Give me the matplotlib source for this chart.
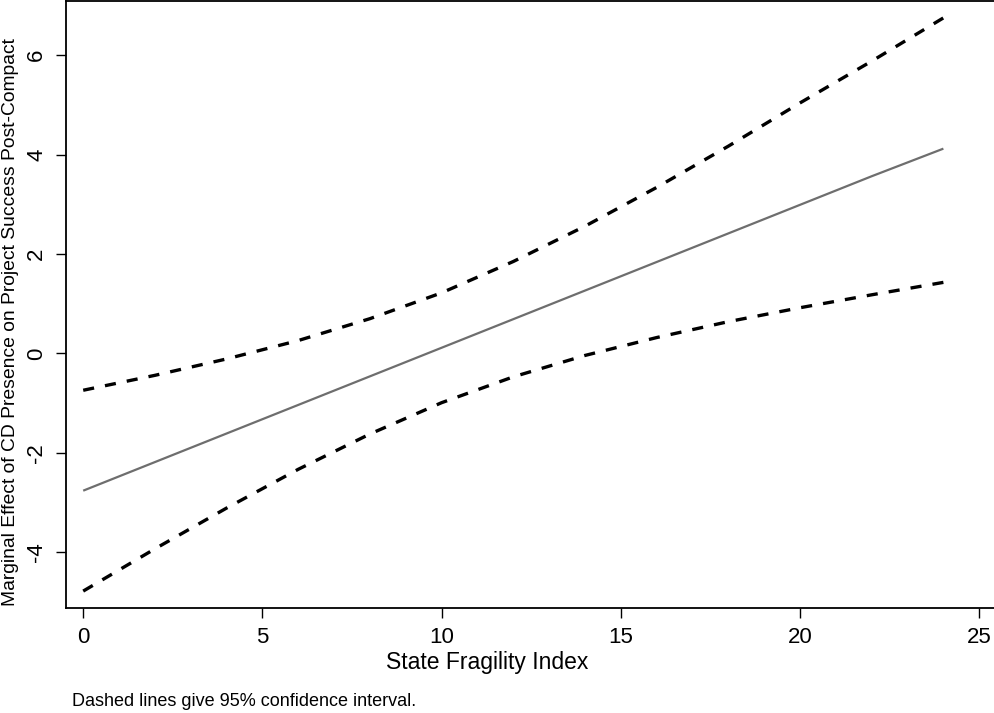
import matplotlib.pyplot as plt

plt.rcParams['font.family'] = ['Liberation Sans', 'DejaVu Sans']
plt.rcParams['lines.scale_dashes'] = False

# marginal effect, State Fragility Index 0..24
sfi = [0, 2, 4, 6, 8, 10, 12, 14, 16, 18, 20, 22, 24]
effect = [-2.76, -2.185, -1.61, -1.035, -0.46, 0.115, 0.69, 1.265, 1.84, 2.415, 2.99, 3.565, 4.12]
upper = [-0.74, -0.44, -0.11, 0.26, 0.70, 1.22, 1.85, 2.56, 3.34, 4.17, 5.04, 5.88, 6.75]
lower = [-4.78, -3.93, -3.11, -2.33, -1.62, -0.99, -0.47, -0.04, 0.32, 0.64, 0.92, 1.18, 1.43]

x_ticks = [0, 5, 10, 15, 20, 25]
y_ticks = [-4, -2, 0, 2, 4, 6]

fig = plt.figure(figsize=(9.95, 7.13), dpi=100)
ax = fig.add_axes([66 / 995, 1 - 608 / 713, 1 - 66 / 995, (608 - 1) / 713])

ax.plot(sfi, effect, color='#6e6e6e', lw=1.6, solid_capstyle='butt')
for ci in (upper, lower):
    ax.plot(sfi, ci, color='black', lw=2.4, dashes=(8, 8))

ax.set_xlim(-0.48, 25.44)
ax.set_ylim(-5.12, 7.09)
ax.set_xticks(x_ticks)
ax.set_yticks(y_ticks)
ax.set_yticklabels([str(v) for v in y_ticks], rotation=90, va='center')
ax.tick_params(axis='both', length=7.5, width=1.0, labelsize=16, pad=6, color='black')

for side in ('left', 'bottom', 'top'):
    ax.spines[side].set_linewidth(1.3)
ax.spines['right'].set_visible(False)

ax.set_xlabel('State Fragility Index', fontsize=16.5)
ax.xaxis.set_label_coords(0.4537, -0.071)
ax.set_ylabel('Marginal Effect of CD Presence on Project Success Post-Compact', fontsize=13.9)
ax.yaxis.set_label_coords(-0.0506, 0.471)

fig.text(72 / 995, 1 - 701 / 713, 'Dashed lines give 95% confidence interval.', fontsize=13,
         ha='left', va='center')

fig.savefig('out.png', dpi=100)
